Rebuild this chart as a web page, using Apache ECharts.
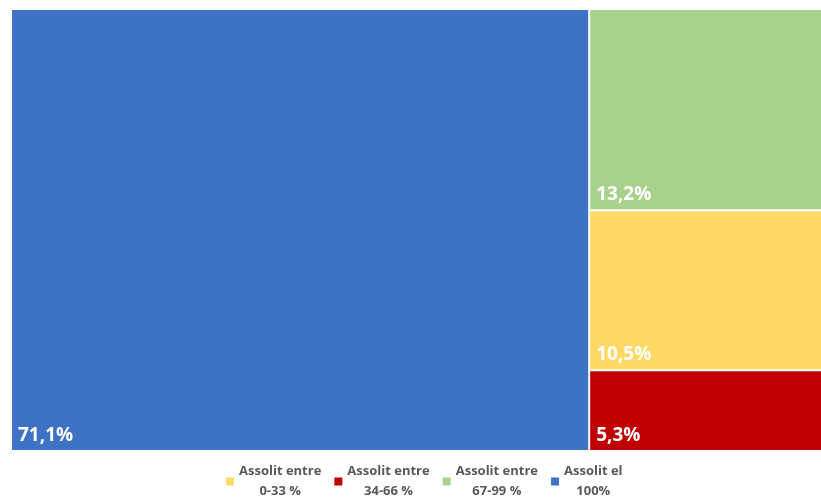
<!DOCTYPE html>
<html>
<head>
<meta charset="utf-8">
<script src="https://cdn.jsdelivr.net/npm/echarts@6/dist/echarts.min.js"></script>
<style>
html,body{margin:0;padding:0;background:#fff;}
#chart{width:821px;height:499px;}
</style>
</head>
<body>
<div id="chart"></div>
<script>
const categories = ['Assolit entre 0-33 %', 'Assolit entre 34-66 %', 'Assolit entre 67-99 %', 'Assolit el 100%'];
const legendLine1 = ['Assolit entre', 'Assolit entre', 'Assolit entre', 'Assolit el'];
const legendLine2 = ['0-33 %', '34-66 %', '67-99 %', '100%'];
const values = [10.5, 5.3, 13.2, 71.1];
const colors = ['#FFD966', '#C00000', '#A9D18E', '#3E72C4'];

const fmt = v => v.toFixed(1).replace('.', ',') + '%';

const chart = echarts.init(document.getElementById('chart'), null, {renderer: 'canvas'});

const treeData = categories.map((c, i) => ({
  name: c,
  value: values[i],
  itemStyle: {color: colors[i]}
}));

const legendData = categories.map((c, i) => ({name: c, itemStyle: {color: colors[i]}}));

chart.setOption({
  backgroundColor: '#fff',
  animation: false,
  legend: {
    data: categories,
    left: 221,
    top: 460,
    icon: 'rect',
    itemWidth: 8,
    itemHeight: 8,
    itemGap: 13,
    formatter: function (name) {
      const i = categories.indexOf(name);
      return '{a|' + legendLine1[i] + '}\n{a|' + legendLine2[i] + '}';
    },
    textStyle: {
      color: '#595959',
      fontFamily: 'Open Sans',
      fontWeight: 'bold',
      fontSize: 13,
      rich: {
        a: {align: 'center', color: '#595959', fontFamily: 'Open Sans', fontWeight: 'bold', fontSize: 13, lineHeight: 20}
      }
    }
  },
  series: [
    {
      type: 'treemap',
      left: 12,
      top: 10,
      right: -3,
      bottom: 49,
      squareRatio: 1,
      roam: false,
      nodeClick: false,
      breadcrumb: {show: false},
      levels: [{itemStyle: {gapWidth: 2, borderWidth: 0, borderColor: '#fff'}}],
      itemStyle: {borderWidth: 0, gapWidth: 2},
      label: {
        show: true,
        position: 'insideBottomLeft',
        formatter: p => fmt(p.value),
        color: '#fff',
        fontFamily: 'Open Sans',
        fontWeight: 'bold',
        fontSize: 19,
        padding: [0, 0, 5, 6]
      },
      data: treeData
    },
    {
      type: 'pie',
      radius: [0, 0],
      center: [-100, -100],
      silent: true,
      label: {show: false},
      labelLine: {show: false},
      data: legendData.map(d => ({name: d.name, value: 1, itemStyle: d.itemStyle}))
    }
  ]
});
</script>
</body>
</html>
